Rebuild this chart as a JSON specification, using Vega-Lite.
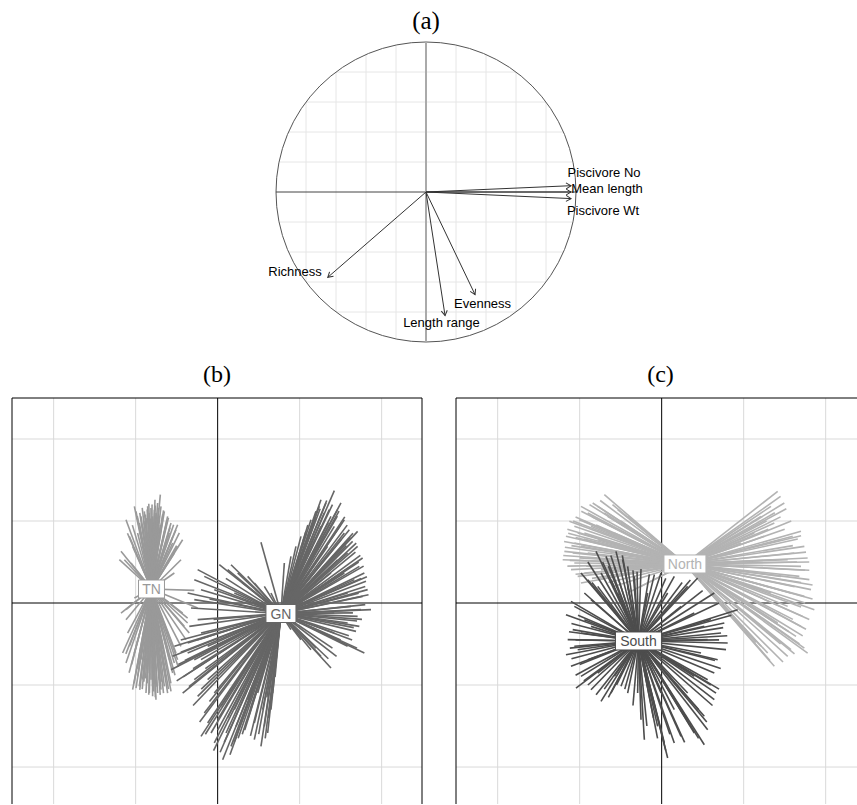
{
"$schema": "https://vega.github.io/schema/vega-lite/v6.json",
"padding": {"left": 11, "top": 0, "right": 0, "bottom": 0},
"autosize": {"type": "pad"},
"config": {
  "view": {"stroke": null},
  "axis": {"disable": true},
  "legend": {"disable": true},
  "font": "Liberation Sans",
  "title": {"font": "Liberation Serif", "fontSize": 24, "fontWeight": "normal", "color": "#000", "anchor": "middle"}
},
"bounds": "flush",
"spacing": 56,
"datasets": {
  "vgrid": [{"x":-0.8,"y":-0.6,"y2":0.6},{"x":-0.6,"y":-0.8,"y2":0.8},{"x":-0.4,"y":-0.917,"y2":0.917},{"x":-0.2,"y":-0.98,"y2":0.98},{"x":0.2,"y":-0.98,"y2":0.98},{"x":0.4,"y":-0.917,"y2":0.917},{"x":0.6,"y":-0.8,"y2":0.8},{"x":0.8,"y":-0.6,"y2":0.6}],
  "hgrid": [{"y":-0.8,"x":-0.6,"x2":0.6},{"y":-0.6,"x":-0.8,"x2":0.8},{"y":-0.4,"x":-0.917,"x2":0.917},{"y":-0.2,"x":-0.98,"x2":0.98},{"y":0.2,"x":-0.98,"x2":0.98},{"y":0.4,"x":-0.917,"x2":0.917},{"y":0.6,"x":-0.8,"x2":0.8},{"y":0.8,"x":-0.6,"x2":0.6}],
  "arrows": [{"n":"Piscivore No","x":0.967,"y":0.042},{"n":"Mean length","x":0.967,"y":0.0},{"n":"Piscivore Wt","x":0.967,"y":-0.044},{"n":"Richness","x":-0.655,"y":-0.569},{"n":"Length range","x":0.127,"y":-0.824},{"n":"Evenness","x":0.327,"y":-0.684}],
  "alabels": [{"t":"Piscivore No","x":1.187,"y":0.127},{"t":"Mean length","x":1.207,"y":0.02},{"t":"Piscivore Wt","x":1.18,"y":-0.128},{"t":"Richness","x":-0.873,"y":-0.536},{"t":"Length range","x":0.103,"y":-0.873},{"t":"Evenness","x":0.377,"y":-0.747}],
  "cent": [{"p":"b","g":"TN","x":-0.807,"y":0.171},{"p":"b","g":"GN","x":0.772,"y":-0.128},{"p":"c","g":"North","x":0.284,"y":0.476},{"p":"c","g":"South","x":-0.283,"y":-0.463}],
  "gridv": [{"v":-2},{"v":-1},{"v":1},{"v":2}],
  "sb": [
{"g":"TN","x":-1.199,"y":0.528},{"g":"TN","x":-1.179,"y":0.63},{"g":"TN","x":-1.118,"y":1.016},{"g":"TN","x":-1.077,"y":0.813},{"g":"TN","x":-1.016,"y":1.179},{"g":"TN","x":-0.996,"y":1.118},{"g":"TN","x":-0.935,"y":1.057},{"g":"TN","x":-0.894,"y":1.118},{"g":"TN","x":-0.854,"y":1.179},{"g":"TN","x":-0.813,"y":1.159},{"g":"TN","x":-0.772,"y":1.138},{"g":"TN","x":-0.732,"y":1.22},{"g":"TN","x":-0.699,"y":1.321},{"g":"TN","x":-0.65,"y":1.118},{"g":"TN","x":-0.61,"y":1.057},{"g":"TN","x":-0.569,"y":0.976},{"g":"TN","x":-0.537,"y":0.955},{"g":"TN","x":-0.508,"y":0.894},{"g":"TN","x":-0.488,"y":0.955},{"g":"TN","x":-0.467,"y":0.854},{"g":"TN","x":-0.427,"y":0.772},{"g":"TN","x":-0.488,"y":0.691},{"g":"TN","x":-0.528,"y":0.61},{"g":"TN","x":-0.447,"y":0.528},{"g":"TN","x":-0.528,"y":0.366},
{"g":"TN","x":-0.833,"y":1.098},{"g":"TN","x":-0.793,"y":1.057},{"g":"TN","x":-0.752,"y":1.098},{"g":"TN","x":-0.711,"y":1.057},{"g":"TN","x":-0.671,"y":1.016},{"g":"TN","x":-0.874,"y":1.037},{"g":"TN","x":-0.915,"y":0.935},{"g":"TN","x":-0.976,"y":0.854},{"g":"TN","x":-1.037,"y":0.691},{"g":"TN","x":-0.589,"y":0.854},{"g":"TN","x":-0.63,"y":0.935},{"g":"TN","x":-0.691,"y":1.179},{"g":"TN","x":-0.764,"y":1.26},{"g":"TN","x":-0.955,"y":0.976},{"g":"TN","x":-1.138,"y":0.528},{"g":"TN","x":-1.057,"y":0.488},{"g":"TN","x":-0.549,"y":0.732},
{"g":"TN","x":-0.72,"y":1.16},{"g":"TN","x":-0.8,"y":1.2},{"g":"TN","x":-0.86,"y":1.14},{"g":"TN","x":-0.67,"y":1.08},{"g":"TN","x":-0.74,"y":1.02},{"g":"TN","x":-0.9,"y":1.0},{"g":"TN","x":-0.62,"y":1.0},{"g":"TN","x":-0.95,"y":1.1},{"g":"TN","x":-0.78,"y":0.98},{"g":"TN","x":-0.7,"y":0.95},
{"g":"TN","x":-0.6,"y":1.04},{"g":"TN","x":-0.66,"y":1.13},{"g":"TN","x":-0.76,"y":1.19},{"g":"TN","x":-0.84,"y":1.21},{"g":"TN","x":-0.92,"y":1.16},{"g":"TN","x":-0.98,"y":1.06},{"g":"TN","x":-1.04,"y":0.95},{"g":"TN","x":-1.1,"y":0.85},{"g":"TN","x":-0.55,"y":0.8},{"g":"TN","x":-0.5,"y":0.7},{"g":"TN","x":-0.58,"y":0.92},{"g":"TN","x":-0.88,"y":1.08},{"g":"TN","x":-0.82,"y":1.03},{"g":"TN","x":-0.72,"y":0.9},
{"g":"TN","x":-1.179,"y":-0.122},{"g":"TN","x":-1.159,"y":-0.61},{"g":"TN","x":-1.118,"y":-0.732},{"g":"TN","x":-1.077,"y":-0.528},{"g":"TN","x":-1.037,"y":-1.057},{"g":"TN","x":-0.996,"y":-1.037},{"g":"TN","x":-0.955,"y":-1.016},{"g":"TN","x":-0.915,"y":-0.935},{"g":"TN","x":-0.874,"y":-1.098},{"g":"TN","x":-0.833,"y":-1.098},{"g":"TN","x":-0.793,"y":-1.138},{"g":"TN","x":-0.752,"y":-1.179},{"g":"TN","x":-0.732,"y":-1.098},{"g":"TN","x":-0.691,"y":-1.057},{"g":"TN","x":-0.65,"y":-1.016},{"g":"TN","x":-0.61,"y":-1.098},{"g":"TN","x":-0.569,"y":-1.077},{"g":"TN","x":-0.549,"y":-0.854},{"g":"TN","x":-0.528,"y":-0.732},{"g":"TN","x":-0.508,"y":-0.61},{"g":"TN","x":-0.488,"y":-0.691},{"g":"TN","x":-0.447,"y":-0.528},{"g":"TN","x":-0.386,"y":-0.447},{"g":"TN","x":-0.346,"y":-0.366},{"g":"TN","x":-0.366,"y":-0.244},{"g":"TN","x":-0.427,"y":-0.122},
{"g":"TN","x":-0.813,"y":-0.935},{"g":"TN","x":-0.772,"y":-0.894},{"g":"TN","x":-0.854,"y":-0.854},{"g":"TN","x":-0.894,"y":-0.813},{"g":"TN","x":-0.711,"y":-0.935},{"g":"TN","x":-0.65,"y":-0.813},{"g":"TN","x":-0.935,"y":-0.691},{"g":"TN","x":-1.016,"y":-0.61},{"g":"TN","x":-1.098,"y":-0.366},{"g":"TN","x":-0.589,"y":-0.691},{"g":"TN","x":-0.63,"y":-0.935},{"g":"TN","x":-0.793,"y":-1.016},{"g":"TN","x":-0.976,"y":-0.894},{"g":"TN","x":-1.118,"y":-0.203},{"g":"TN","x":-0.407,"y":-0.285},
{"g":"TN","x":-0.86,"y":-0.98},{"g":"TN","x":-0.74,"y":-1.02},{"g":"TN","x":-0.68,"y":-0.96},{"g":"TN","x":-0.92,"y":-1.05},{"g":"TN","x":-0.78,"y":-1.08},{"g":"TN","x":-0.57,"y":-0.98},{"g":"TN","x":-1.05,"y":-0.75},{"g":"TN","x":-0.98,"y":-0.8},{"g":"TN","x":-0.7,"y":-1.12},{"g":"TN","x":-0.88,"y":-0.92},
{"g":"TN","x":-0.6,"y":-1.05},{"g":"TN","x":-0.66,"y":-1.1},{"g":"TN","x":-0.76,"y":-1.15},{"g":"TN","x":-0.84,"y":-1.12},{"g":"TN","x":-0.95,"y":-1.06},{"g":"TN","x":-1.02,"y":-0.98},{"g":"TN","x":-1.08,"y":-0.85},{"g":"TN","x":-1.12,"y":-0.62},{"g":"TN","x":-0.52,"y":-0.88},{"g":"TN","x":-0.48,"y":-0.78},{"g":"TN","x":-0.7,"y":-0.98},{"g":"TN","x":-0.9,"y":-0.96},{"g":"TN","x":-0.64,"y":-0.88},
{"g":"TN","x":-0.285,"y":0.154},{"g":"TN","x":-1.118,"y":-0.081},{"g":"TN","x":-1.016,"y":0.061},{"g":"TN","x":-0.244,"y":-0.061},{"g":"TN","x":-0.366,"y":-0.183},
{"g":"GN","x":0.528,"y":0.74},{"g":"GN","x":0.813,"y":0.488},{"g":"GN","x":0.894,"y":0.569},{"g":"GN","x":0.955,"y":0.691},{"g":"GN","x":1.016,"y":0.813},{"g":"GN","x":1.077,"y":0.874},{"g":"GN","x":1.138,"y":1.016},{"g":"GN","x":1.199,"y":1.118},{"g":"GN","x":1.26,"y":1.26},{"g":"GN","x":1.321,"y":1.22},{"g":"GN","x":1.423,"y":1.37},{"g":"GN","x":1.463,"y":1.138},{"g":"GN","x":1.504,"y":1.22},{"g":"GN","x":1.545,"y":1.016},{"g":"GN","x":1.606,"y":0.894},{"g":"GN","x":1.707,"y":0.874},{"g":"GN","x":1.646,"y":0.752},{"g":"GN","x":1.768,"y":0.549},{"g":"GN","x":1.728,"y":0.447},{"g":"GN","x":1.789,"y":0.366},{"g":"GN","x":1.809,"y":0.264},{"g":"GN","x":1.829,"y":0.163},{"g":"GN","x":1.768,"y":0.081},{"g":"GN","x":1.87,"y":-0.081},{"g":"GN","x":1.707,"y":-0.163},{"g":"GN","x":1.728,"y":-0.285},{"g":"GN","x":1.687,"y":-0.346},{"g":"GN","x":1.789,"y":-0.61},{"g":"GN","x":1.585,"y":-0.528},{"g":"GN","x":1.382,"y":-0.793},{"g":"GN","x":1.26,"y":-0.65},{"g":"GN","x":1.138,"y":-0.569},{"g":"GN","x":1.016,"y":-0.447},{"g":"GN","x":0.894,"y":-0.325},
{"g":"GN","x":1.382,"y":1.057},{"g":"GN","x":1.423,"y":0.935},{"g":"GN","x":1.26,"y":0.935},{"g":"GN","x":1.504,"y":0.772},{"g":"GN","x":1.585,"y":0.61},{"g":"GN","x":1.626,"y":0.447},{"g":"GN","x":1.667,"y":0.285},{"g":"GN","x":1.585,"y":0.122},{"g":"GN","x":1.626,"y":-0.041},{"g":"GN","x":1.179,"y":0.813},{"g":"GN","x":1.341,"y":0.691},{"g":"GN","x":1.463,"y":0.528},{"g":"GN","x":1.545,"y":0.366},{"g":"GN","x":1.22,"y":0.528},{"g":"GN","x":1.382,"y":0.366},{"g":"GN","x":1.707,"y":0.691},{"g":"GN","x":1.748,"y":-0.081},{"g":"GN","x":1.423,"y":-0.122},{"g":"GN","x":1.585,"y":-0.244},{"g":"GN","x":1.423,"y":-0.366},{"g":"GN","x":1.24,"y":1.179},{"g":"GN","x":1.362,"y":1.138},{"g":"GN","x":1.545,"y":0.854},
{"g":"GN","x":1.3,"y":1.1},{"g":"GN","x":1.46,"y":1.06},{"g":"GN","x":1.35,"y":0.98},{"g":"GN","x":1.5,"y":0.95},{"g":"GN","x":1.62,"y":0.8},{"g":"GN","x":1.68,"y":0.62},{"g":"GN","x":1.72,"y":0.5},{"g":"GN","x":1.75,"y":0.3},{"g":"GN","x":1.8,"y":0.2},{"g":"GN","x":1.72,"y":0.12},{"g":"GN","x":1.65,"y":-0.12},{"g":"GN","x":1.7,"y":-0.22},{"g":"GN","x":1.5,"y":-0.45},{"g":"GN","x":1.6,"y":-0.4},{"g":"GN","x":1.4,"y":-0.55},{"g":"GN","x":1.1,"y":0.95},{"g":"GN","x":1.2,"y":1.05},{"g":"GN","x":1.57,"y":0.7},{"g":"GN","x":1.3,"y":0.8},{"g":"GN","x":1.12,"y":0.7},
{"g":"GN","x":1.33,"y":1.25},{"g":"GN","x":1.4,"y":1.2},{"g":"GN","x":1.48,"y":1.12},{"g":"GN","x":1.55,"y":1.05},{"g":"GN","x":1.58,"y":0.95},{"g":"GN","x":1.65,"y":0.85},{"g":"GN","x":1.69,"y":0.73},{"g":"GN","x":1.74,"y":0.58},{"g":"GN","x":1.78,"y":0.45},{"g":"GN","x":1.82,"y":0.32},{"g":"GN","x":1.84,"y":0.1},{"g":"GN","x":1.8,"y":-0.02},{"g":"GN","x":1.76,"y":-0.2},{"g":"GN","x":1.66,"y":-0.3},{"g":"GN","x":1.64,"y":-0.45},{"g":"GN","x":1.7,"y":-0.55},{"g":"GN","x":1.45,"y":-0.65},{"g":"GN","x":1.35,"y":-0.68},{"g":"GN","x":1.2,"y":-0.55},{"g":"GN","x":1.25,"y":1.15},{"g":"GN","x":1.18,"y":0.98},{"g":"GN","x":1.08,"y":0.85},
{"g":"GN","x":-0.244,"y":0.407},{"g":"GN","x":-0.163,"y":0.325},{"g":"GN","x":0.02,"y":0.467},{"g":"GN","x":0.122,"y":0.407},{"g":"GN","x":0.163,"y":0.467},{"g":"GN","x":0.244,"y":0.366},{"g":"GN","x":0.366,"y":0.325},{"g":"GN","x":0.447,"y":0.244},{"g":"GN","x":0.569,"y":0.203},{"g":"GN","x":0.65,"y":0.122},{"g":"GN","x":-0.285,"y":0.285},{"g":"GN","x":-0.366,"y":0.122},{"g":"GN","x":-0.203,"y":0.163},{"g":"GN","x":-0.285,"y":0.041},{"g":"GN","x":-0.325,"y":-0.061},{"g":"GN","x":-0.244,"y":-0.203},{"g":"GN","x":-0.346,"y":-0.285},{"g":"GN","x":-0.041,"y":0.163},{"g":"GN","x":0.203,"y":0.122},
{"g":"GN","x":-0.366,"y":-0.488},{"g":"GN","x":-0.528,"y":-0.528},{"g":"GN","x":-0.569,"y":-0.813},{"g":"GN","x":-0.366,"y":-0.61},{"g":"GN","x":-0.427,"y":-1.098},{"g":"GN","x":-0.285,"y":-0.935},{"g":"GN","x":-0.244,"y":-1.138},{"g":"GN","x":-0.203,"y":-1.626},{"g":"GN","x":-0.163,"y":-1.341},{"g":"GN","x":-0.122,"y":-1.463},{"g":"GN","x":-0.041,"y":-1.707},{"g":"GN","x":0.0,"y":-1.423},{"g":"GN","x":0.061,"y":-1.911},{"g":"GN","x":0.102,"y":-1.585},{"g":"GN","x":0.163,"y":-1.748},{"g":"GN","x":0.224,"y":-1.504},{"g":"GN","x":0.285,"y":-1.463},{"g":"GN","x":0.366,"y":-1.423},{"g":"GN","x":0.447,"y":-1.463},{"g":"GN","x":0.528,"y":-1.748},{"g":"GN","x":0.569,"y":-1.504},{"g":"GN","x":0.61,"y":-1.585},{"g":"GN","x":0.671,"y":-1.098},{"g":"GN","x":0.732,"y":-0.488},{"g":"GN","x":-0.203,"y":-0.691},{"g":"GN","x":-0.122,"y":-0.935},{"g":"GN","x":-0.041,"y":-1.098},{"g":"GN","x":0.041,"y":-1.26},{"g":"GN","x":0.203,"y":-1.301},{"g":"GN","x":0.366,"y":-1.179},{"g":"GN","x":0.488,"y":-1.098},{"g":"GN","x":-0.203,"y":-0.366},{"g":"GN","x":-0.122,"y":-0.528},{"g":"GN","x":-0.285,"y":-0.691},{"g":"GN","x":0.447,"y":-1.667},{"g":"GN","x":-0.081,"y":-1.585},
{"g":"GN","x":-0.1,"y":-1.2},{"g":"GN","x":0.0,"y":-1.55},{"g":"GN","x":0.12,"y":-1.4},{"g":"GN","x":0.3,"y":-1.6},{"g":"GN","x":0.4,"y":-1.3},{"g":"GN","x":0.55,"y":-1.3},{"g":"GN","x":-0.3,"y":-0.8},{"g":"GN","x":-0.4,"y":-0.7},{"g":"GN","x":-0.15,"y":-0.8},{"g":"GN","x":-0.2,"y":-1.05},{"g":"GN","x":0.08,"y":-1.7},{"g":"GN","x":0.25,"y":-1.65},{"g":"GN","x":-0.05,"y":-0.2},{"g":"GN","x":0.1,"y":0.3},{"g":"GN","x":0.3,"y":0.25},{"g":"GN","x":-0.1,"y":0.05},{"g":"GN","x":-0.25,"y":-0.45},{"g":"GN","x":-0.45,"y":-0.6},{"g":"GN","x":0.62,"y":-1.4},{"g":"GN","x":0.2,"y":-1.1},
{"g":"GN","x":-0.48,"y":-0.75},{"g":"GN","x":-0.5,"y":-0.95},{"g":"GN","x":-0.35,"y":-1.02},{"g":"GN","x":-0.3,"y":-1.25},{"g":"GN","x":-0.22,"y":-1.45},{"g":"GN","x":-0.15,"y":-1.6},{"g":"GN","x":-0.05,"y":-1.8},{"g":"GN","x":0.03,"y":-1.82},{"g":"GN","x":0.15,"y":-1.85},{"g":"GN","x":0.2,"y":-1.7},{"g":"GN","x":0.33,"y":-1.55},{"g":"GN","x":0.4,"y":-1.62},{"g":"GN","x":0.5,"y":-1.6},{"g":"GN","x":0.58,"y":-1.65},{"g":"GN","x":0.65,"y":-1.3},{"g":"GN","x":0.7,"y":-0.9},{"g":"GN","x":0.6,"y":-1.15},{"g":"GN","x":-0.42,"y":-0.9},{"g":"GN","x":-0.55,"y":-0.65},{"g":"GN","x":-0.45,"y":-0.45}
  ],
  "sc": [
{"g":"North","x":-0.699,"y":1.321},{"g":"North","x":-0.841,"y":1.22},{"g":"North","x":-0.984,"y":1.179},{"g":"North","x":-0.902,"y":1.098},{"g":"North","x":-1.004,"y":1.016},{"g":"North","x":-1.126,"y":0.996},{"g":"North","x":-1.065,"y":0.935},{"g":"North","x":-1.024,"y":0.854},{"g":"North","x":-1.167,"y":0.813},{"g":"North","x":-1.065,"y":0.732},{"g":"North","x":-1.187,"y":0.63},{"g":"North","x":-1.085,"y":0.61},{"g":"North","x":-1.207,"y":0.528},{"g":"North","x":-1.065,"y":0.488},{"g":"North","x":-1.106,"y":0.407},{"g":"North","x":-1.024,"y":0.325},{"g":"North","x":-0.943,"y":0.366},{"g":"North","x":-0.984,"y":0.244},{"g":"North","x":-0.78,"y":0.285},{"g":"North","x":-0.577,"y":0.203},{"g":"North","x":-0.415,"y":0.122},{"g":"North","x":-0.252,"y":0.203},{"g":"North","x":-0.659,"y":1.057},{"g":"North","x":-0.78,"y":1.179},{"g":"North","x":-0.537,"y":1.138},{"g":"North","x":-0.862,"y":0.935},{"g":"North","x":-0.78,"y":0.772},{"g":"North","x":-0.577,"y":0.854},{"g":"North","x":-0.415,"y":0.935},{"g":"North","x":-0.252,"y":0.813},{"g":"North","x":-0.902,"y":0.61},{"g":"North","x":-0.74,"y":0.528},{"g":"North","x":-0.537,"y":0.447},{"g":"North","x":-0.74,"y":0.407},{"g":"North","x":-0.415,"y":1.057},{"g":"North","x":-0.943,"y":0.854},{"g":"North","x":-0.984,"y":0.691},
{"g":"North","x":-1.1,"y":0.7},{"g":"North","x":-1.15,"y":0.9},{"g":"North","x":-1.05,"y":0.8},{"g":"North","x":-0.95,"y":1.0},{"g":"North","x":-1.0,"y":0.55},{"g":"North","x":-1.12,"y":0.52},{"g":"North","x":-0.88,"y":0.75},{"g":"North","x":-0.8,"y":0.95},{"g":"North","x":-0.7,"y":1.1},{"g":"North","x":-1.05,"y":1.05},{"g":"North","x":-0.92,"y":0.45},{"g":"North","x":-1.18,"y":0.68},
{"g":"North","x":-0.75,"y":1.25},{"g":"North","x":-0.88,"y":1.2},{"g":"North","x":-0.98,"y":1.12},{"g":"North","x":-1.08,"y":1.0},{"g":"North","x":-1.14,"y":0.85},{"g":"North","x":-1.19,"y":0.75},{"g":"North","x":-1.2,"y":0.58},{"g":"North","x":-1.15,"y":0.45},{"g":"North","x":-1.05,"y":0.35},{"g":"North","x":-0.85,"y":0.3},{"g":"North","x":-0.65,"y":0.25},{"g":"North","x":-0.6,"y":1.2},{"g":"North","x":-0.5,"y":1.0},{"g":"North","x":-0.85,"y":1.05},{"g":"North","x":-0.95,"y":0.78},
{"g":"North","x":1.415,"y":1.362},{"g":"North","x":1.496,"y":1.22},{"g":"North","x":1.333,"y":1.179},{"g":"North","x":1.211,"y":1.057},{"g":"North","x":1.374,"y":0.976},{"g":"North","x":1.699,"y":0.874},{"g":"North","x":1.598,"y":0.813},{"g":"North","x":1.74,"y":0.691},{"g":"North","x":1.618,"y":0.61},{"g":"North","x":1.78,"y":0.549},{"g":"North","x":1.699,"y":0.447},{"g":"North","x":1.801,"y":0.285},{"g":"North","x":1.679,"y":0.325},{"g":"North","x":1.821,"y":0.163},{"g":"North","x":1.74,"y":0.081},{"g":"North","x":1.862,"y":-0.081},{"g":"North","x":1.72,"y":-0.163},{"g":"North","x":1.699,"y":-0.285},{"g":"North","x":1.638,"y":-0.407},{"g":"North","x":1.78,"y":-0.61},{"g":"North","x":1.577,"y":-0.569},{"g":"North","x":1.537,"y":-0.65},{"g":"North","x":1.374,"y":-0.772},{"g":"North","x":1.293,"y":-0.61},{"g":"North","x":1.211,"y":-0.528},{"g":"North","x":1.089,"y":-0.407},{"g":"North","x":0.967,"y":-0.285},{"g":"North","x":0.846,"y":-0.122},{"g":"North","x":0.764,"y":-0.041},{"g":"North","x":0.967,"y":0.732},{"g":"North","x":1.13,"y":0.854},{"g":"North","x":0.886,"y":0.61},{"g":"North","x":1.455,"y":0.772},{"g":"North","x":1.537,"y":0.528},{"g":"North","x":1.455,"y":0.325},{"g":"North","x":1.577,"y":0.122},{"g":"North","x":1.537,"y":-0.041},{"g":"North","x":1.415,"y":-0.244},{"g":"North","x":1.333,"y":0.122},{"g":"North","x":1.374,"y":0.528},{"g":"North","x":1.252,"y":0.813},
{"g":"North","x":1.6,"y":0.7},{"g":"North","x":1.65,"y":0.5},{"g":"North","x":1.7,"y":0.25},{"g":"North","x":1.75,"y":0.0},{"g":"North","x":1.7,"y":-0.05},{"g":"North","x":1.6,"y":-0.2},{"g":"North","x":1.55,"y":-0.35},{"g":"North","x":1.45,"y":-0.5},{"g":"North","x":1.75,"y":0.4},{"g":"North","x":1.8,"y":0.4},{"g":"North","x":1.66,"y":0.78},{"g":"North","x":1.5,"y":0.9},{"g":"North","x":1.45,"y":1.05},{"g":"North","x":1.3,"y":0.9},{"g":"North","x":1.62,"y":0.2},{"g":"North","x":1.72,"y":-0.4},{"g":"North","x":1.68,"y":-0.5},
{"g":"North","x":1.45,"y":1.3},{"g":"North","x":1.52,"y":1.15},{"g":"North","x":1.58,"y":1.0},{"g":"North","x":1.7,"y":0.82},{"g":"North","x":1.76,"y":0.62},{"g":"North","x":1.8,"y":0.5},{"g":"North","x":1.84,"y":0.22},{"g":"North","x":1.84,"y":0.05},{"g":"North","x":1.8,"y":-0.2},{"g":"North","x":1.76,"y":-0.32},{"g":"North","x":1.74,"y":-0.55},{"g":"North","x":1.62,"y":-0.62},{"g":"North","x":1.48,"y":-0.72},{"g":"North","x":1.32,"y":-0.7},{"g":"North","x":1.15,"y":-0.48},{"g":"North","x":1.38,"y":1.1},{"g":"North","x":1.28,"y":1.0},
{"g":"South","x":-0.801,"y":0.63},{"g":"South","x":-0.679,"y":0.569},{"g":"South","x":-0.557,"y":0.63},{"g":"South","x":-0.476,"y":0.528},{"g":"South","x":-0.415,"y":0.447},{"g":"South","x":-0.252,"y":0.415},{"g":"South","x":-0.089,"y":0.346},{"g":"South","x":-0.008,"y":0.366},{"g":"South","x":0.154,"y":0.325},{"g":"South","x":0.317,"y":0.203},{"g":"South","x":0.439,"y":0.305},{"g":"South","x":0.642,"y":0.122},{"g":"South","x":0.927,"y":-0.081},{"g":"South","x":0.764,"y":-0.244},{"g":"South","x":0.724,"y":-0.366},{"g":"South","x":0.805,"y":-0.488},{"g":"South","x":0.785,"y":-0.569},{"g":"South","x":0.683,"y":-0.691},{"g":"South","x":0.642,"y":-0.854},{"g":"South","x":0.561,"y":-0.935},{"g":"South","x":0.663,"y":-1.098},{"g":"South","x":0.642,"y":-1.179},{"g":"South","x":0.52,"y":-1.382},{"g":"South","x":0.561,"y":-1.545},{"g":"South","x":0.52,"y":-1.728},{"g":"South","x":0.398,"y":-1.585},{"g":"South","x":0.236,"y":-1.626},{"g":"South","x":0.073,"y":-1.89},{"g":"South","x":0.033,"y":-1.707},{"g":"South","x":-0.049,"y":-1.504},{"g":"South","x":-0.211,"y":-1.667},{"g":"South","x":-0.252,"y":-1.423},{"g":"South","x":-0.293,"y":-1.098},{"g":"South","x":-0.415,"y":-1.098},{"g":"South","x":-0.496,"y":-1.016},{"g":"South","x":-0.618,"y":-1.098},{"g":"South","x":-0.74,"y":-1.199},{"g":"South","x":-0.862,"y":-1.057},{"g":"South","x":-1.045,"y":-1.037},{"g":"South","x":-0.984,"y":-0.894},{"g":"South","x":-1.106,"y":-0.772},{"g":"South","x":-1.167,"y":-0.63},{"g":"South","x":-1.065,"y":-0.528},{"g":"South","x":-1.146,"y":-0.447},{"g":"South","x":-1.085,"y":-0.325},{"g":"South","x":-1.167,"y":-0.142},{"g":"South","x":-1.065,"y":-0.041},{"g":"South","x":-1.106,"y":0.02},{"g":"South","x":-0.943,"y":0.122},{"g":"South","x":-0.984,"y":0.366},{"g":"South","x":-0.902,"y":0.285},{"g":"South","x":-0.74,"y":0.366},{"g":"South","x":-0.618,"y":0.285},
{"g":"South","x":-0.862,"y":0.041},{"g":"South","x":-0.78,"y":0.203},{"g":"South","x":-0.577,"y":0.447},{"g":"South","x":-0.333,"y":0.325},{"g":"South","x":-0.171,"y":0.122},{"g":"South","x":0.073,"y":0.122},{"g":"South","x":0.236,"y":-0.041},{"g":"South","x":0.398,"y":-0.122},{"g":"South","x":0.52,"y":-0.285},{"g":"South","x":0.561,"y":-0.447},{"g":"South","x":0.48,"y":-0.61},{"g":"South","x":0.398,"y":-0.894},{"g":"South","x":0.317,"y":-1.098},{"g":"South","x":0.154,"y":-1.301},{"g":"South","x":-0.008,"y":-1.098},{"g":"South","x":-0.171,"y":-1.016},{"g":"South","x":-0.577,"y":-0.894},{"g":"South","x":-0.78,"y":-0.854},{"g":"South","x":-0.902,"y":-0.691},{"g":"South","x":-0.984,"y":-0.366},{"g":"South","x":-0.943,"y":-0.203},{"g":"South","x":-1.024,"y":-0.569},{"g":"South","x":-0.862,"y":-0.285},{"g":"South","x":0.154,"y":-1.707},{"g":"South","x":0.317,"y":-1.423},{"g":"South","x":-0.415,"y":0.203},{"g":"South","x":-0.537,"y":0.122},
{"g":"South","x":-1.0,"y":-0.75},{"g":"South","x":-0.95,"y":-0.95},{"g":"South","x":-0.7,"y":-1.05},{"g":"South","x":-0.55,"y":-1.0},{"g":"South","x":-1.1,"y":-0.25},{"g":"South","x":-1.05,"y":-0.45},{"g":"South","x":-1.12,"y":-0.55},{"g":"South","x":0.7,"y":-0.45},{"g":"South","x":0.65,"y":-0.7},{"g":"South","x":0.6,"y":-1.0},{"g":"South","x":0.45,"y":-1.3},{"g":"South","x":0.35,"y":-1.5},{"g":"South","x":-0.1,"y":-1.4},{"g":"South","x":0.1,"y":-1.6},{"g":"South","x":0.75,"y":-0.3},{"g":"South","x":0.6,"y":-0.2},{"g":"South","x":-0.65,"y":0.45},{"g":"South","x":-0.35,"y":0.4},{"g":"South","x":0.25,"y":0.25},{"g":"South","x":-0.85,"y":0.25},
{"g":"South","x":-0.9,"y":0.5},{"g":"South","x":-0.72,"y":0.5},{"g":"South","x":-0.62,"y":0.58},{"g":"South","x":-0.48,"y":0.58},{"g":"South","x":-0.3,"y":0.38},{"g":"South","x":-1.02,"y":-0.15},{"g":"South","x":-1.13,"y":-0.35},{"g":"South","x":-1.1,"y":-0.68},{"g":"South","x":-1.05,"y":-0.88},{"g":"South","x":-0.9,"y":-1.0},{"g":"South","x":-0.8,"y":-1.12},{"g":"South","x":-0.65,"y":-1.15},{"g":"South","x":-0.45,"y":-1.05},{"g":"South","x":-0.35,"y":-1.25},{"g":"South","x":-0.18,"y":-1.5},{"g":"South","x":-0.05,"y":-1.65},{"g":"South","x":0.05,"y":-1.8},{"g":"South","x":0.28,"y":-1.7},{"g":"South","x":0.45,"y":-1.65},{"g":"South","x":0.55,"y":-1.45},{"g":"South","x":0.62,"y":-1.25},{"g":"South","x":0.7,"y":-1.05},{"g":"South","x":0.72,"y":-0.8},{"g":"South","x":0.8,"y":-0.4},{"g":"South","x":0.85,"y":-0.15},{"g":"South","x":0.7,"y":0.0},{"g":"South","x":0.5,"y":0.15},{"g":"South","x":0.35,"y":0.28},{"g":"South","x":0.05,"y":0.3},{"g":"South","x":-0.15,"y":0.35}
  ]
},
"vconcat": [
  {
    "width": 846, "height": 342,
    "layer": [
      {"data": {"name": "vgrid"}, "mark": {"type": "rule", "color": "#e6e6e6", "strokeWidth": 1},
       "encoding": {"x": {"field": "x", "type": "quantitative", "scale": {"domain": [-2.76, 2.88], "nice": false, "zero": false}}, "y": {"field": "y", "type": "quantitative", "scale": {"domain": [-1, 1.28], "nice": false, "zero": false}}, "y2": {"field": "y2"}}},
      {"data": {"name": "hgrid"}, "mark": {"type": "rule", "color": "#e6e6e6", "strokeWidth": 1},
       "encoding": {"x": {"field": "x", "type": "quantitative"}, "x2": {"field": "x2"}, "y": {"field": "y", "type": "quantitative"}}},
      {"data": {"values": [{"x": 0, "y": 0}]}, "mark": {"type": "point", "shape": "circle", "size": 90000, "filled": false, "stroke": "#555555", "strokeWidth": 1, "opacity": 1},
       "encoding": {"x": {"field": "x", "type": "quantitative"}, "y": {"field": "y", "type": "quantitative"}}},
      {"data": {"values": [{"x": -1, "x2": 1, "y": 0}]}, "mark": {"type": "rule", "color": "#444444", "strokeWidth": 1},
       "encoding": {"x": {"field": "x", "type": "quantitative"}, "x2": {"field": "x2"}, "y": {"field": "y", "type": "quantitative"}}},
      {"data": {"values": [{"x": 0, "y": -1, "y2": 1}]}, "mark": {"type": "rule", "color": "#aaaaaa", "strokeWidth": 2},
       "encoding": {"x": {"field": "x", "type": "quantitative"}, "y": {"field": "y", "type": "quantitative"}, "y2": {"field": "y2"}}},
      {"data": {"name": "arrows"}, "mark": {"type": "rule", "color": "#333333", "strokeWidth": 1},
       "encoding": {"x": {"field": "x", "type": "quantitative"}, "y": {"field": "y", "type": "quantitative"}, "x2": {"datum": 0}, "y2": {"datum": 0}}},
      {"data": {"name": "arrows"}, "mark": {"type": "point", "shape": "M-1,-0.6L0,0L-1,0.6", "size": 100, "filled": false, "stroke": "#333333", "strokeWidth": 1, "opacity": 1, "angle": {"expr": "-atan2(datum.y, datum.x) * 180 / PI"}},
       "encoding": {"x": {"field": "x", "type": "quantitative"}, "y": {"field": "y", "type": "quantitative"}}},
      {"data": {"name": "alabels"}, "mark": {"type": "text", "font": "Liberation Sans", "fontSize": 13, "color": "#000000", "align": "center", "baseline": "middle"},
       "encoding": {"x": {"field": "x", "type": "quantitative"}, "y": {"field": "y", "type": "quantitative"}, "text": {"field": "t"}}},
      {"data": {"values": [{"t": "(a)", "x": 0, "y": 1.089}]}, "mark": {"type": "text", "font": "Liberation Serif", "fontSize": 25, "color": "#000000", "align": "center", "baseline": "alphabetic"},
       "encoding": {"x": {"field": "x", "type": "quantitative"}, "y": {"field": "y", "type": "quantitative"}, "text": {"field": "t"}}}
    ]
  },
  {
    "hconcat": [
      {
        "width": 410, "height": 406,
        "title": {"text": "(b)", "offset": 11},
        "layer": [
          {"data": {"name": "gridv"}, "mark": {"type": "rule", "color": "#d9d9d9", "strokeWidth": 1},
           "encoding": {"x": {"field": "v", "type": "quantitative", "scale": {"domain": [-2.508, 2.492], "nice": false, "zero": false}}}},
          {"data": {"name": "gridv"}, "mark": {"type": "rule", "color": "#d9d9d9", "strokeWidth": 1},
           "encoding": {"y": {"field": "v", "type": "quantitative", "scale": {"domain": [-2.451, 2.5], "nice": false, "zero": false}}}},
          {"data": {"values": [{"v": 0}]}, "mark": {"type": "rule", "color": "#000000", "strokeWidth": 1},
           "encoding": {"x": {"field": "v", "type": "quantitative"}}},
          {"data": {"values": [{"v": 0}]}, "mark": {"type": "rule", "color": "#000000", "strokeWidth": 1},
           "encoding": {"y": {"field": "v", "type": "quantitative"}}},
          {"data": {"values": [{"v": -2.508}, {"v": 2.492}]}, "mark": {"type": "rule", "color": "#000000", "strokeWidth": 1},
           "encoding": {"x": {"field": "v", "type": "quantitative"}}},
          {"data": {"values": [{"v": 2.5}]}, "mark": {"type": "rule", "color": "#000000", "strokeWidth": 1},
           "encoding": {"y": {"field": "v", "type": "quantitative"}}},
          {"data": {"name": "sb"},
           "transform": [{"lookup": "g", "from": {"data": {"name": "cent"}, "key": "g", "fields": ["x", "y"]}, "as": ["cx", "cy"]}],
           "mark": {"type": "rule", "strokeWidth": 1.6},
           "encoding": {"x": {"field": "x", "type": "quantitative"}, "y": {"field": "y", "type": "quantitative"}, "x2": {"field": "cx"}, "y2": {"field": "cy"},
             "stroke": {"field": "g", "type": "nominal", "scale": {"domain": ["TN", "GN", "North", "South"], "range": ["#999999", "#666666", "#b3b3b3", "#4d4d4d"]}}}},
          {"data": {"name": "cent"}, "transform": [{"filter": "datum.p === 'b'"}],
           "mark": {"type": "point", "size": 324, "filled": true, "fill": "#ffffff", "strokeWidth": 1, "opacity": 1},
           "encoding": {"x": {"field": "x", "type": "quantitative"}, "y": {"field": "y", "type": "quantitative"},
             "stroke": {"field": "g", "type": "nominal", "scale": {"domain": ["TN", "GN", "North", "South"], "range": ["#999999", "#666666", "#b3b3b3", "#4d4d4d"]}},
             "shape": {"field": "g", "type": "nominal", "scale": {"domain": ["TN", "GN", "North", "South"], "range": ["M-1.444,-1H1.444V1H-1.444Z", "M-1.667,-1H1.667V1H-1.667Z", "M-2.333,-1H2.333V1H-2.333Z", "M-2.556,-1H2.556V1H-2.556Z"]}}}},
          {"data": {"name": "cent"}, "transform": [{"filter": "datum.p === 'b'"}],
           "mark": {"type": "text", "font": "Liberation Sans", "fontSize": 14, "align": "center", "baseline": "middle", "dy": 1},
           "encoding": {"x": {"field": "x", "type": "quantitative"}, "y": {"field": "y", "type": "quantitative"}, "text": {"field": "g"},
             "color": {"field": "g", "type": "nominal", "scale": {"domain": ["TN", "GN", "North", "South"], "range": ["#999999", "#666666", "#b3b3b3", "#4d4d4d"]}}}}
        ]
      },
      {
        "width": 401, "height": 406,
        "title": {"text": "(c)", "offset": 11, "dx": 4},
        "layer": [
          {"data": {"name": "gridv"}, "mark": {"type": "rule", "color": "#d9d9d9", "strokeWidth": 1},
           "encoding": {"x": {"field": "v", "type": "quantitative", "scale": {"domain": [-2.508, 2.382], "nice": false, "zero": false}}}},
          {"data": {"name": "gridv"}, "mark": {"type": "rule", "color": "#d9d9d9", "strokeWidth": 1},
           "encoding": {"y": {"field": "v", "type": "quantitative", "scale": {"domain": [-2.451, 2.5], "nice": false, "zero": false}}}},
          {"data": {"values": [{"v": 0}]}, "mark": {"type": "rule", "color": "#000000", "strokeWidth": 1},
           "encoding": {"x": {"field": "v", "type": "quantitative"}}},
          {"data": {"values": [{"v": 0}]}, "mark": {"type": "rule", "color": "#000000", "strokeWidth": 1},
           "encoding": {"y": {"field": "v", "type": "quantitative"}}},
          {"data": {"values": [{"v": -2.508}]}, "mark": {"type": "rule", "color": "#000000", "strokeWidth": 1},
           "encoding": {"x": {"field": "v", "type": "quantitative"}}},
          {"data": {"values": [{"v": 2.5}]}, "mark": {"type": "rule", "color": "#000000", "strokeWidth": 1},
           "encoding": {"y": {"field": "v", "type": "quantitative"}}},
          {"data": {"name": "sc"},
           "transform": [{"lookup": "g", "from": {"data": {"name": "cent"}, "key": "g", "fields": ["x", "y"]}, "as": ["cx", "cy"]}],
           "mark": {"type": "rule", "strokeWidth": 1.6},
           "encoding": {"x": {"field": "x", "type": "quantitative"}, "y": {"field": "y", "type": "quantitative"}, "x2": {"field": "cx"}, "y2": {"field": "cy"},
             "stroke": {"field": "g", "type": "nominal", "scale": {"domain": ["TN", "GN", "North", "South"], "range": ["#999999", "#666666", "#b3b3b3", "#4d4d4d"]}}}},
          {"data": {"name": "cent"}, "transform": [{"filter": "datum.p === 'c'"}],
           "mark": {"type": "point", "size": 324, "filled": true, "fill": "#ffffff", "strokeWidth": 1, "opacity": 1},
           "encoding": {"x": {"field": "x", "type": "quantitative"}, "y": {"field": "y", "type": "quantitative"},
             "stroke": {"field": "g", "type": "nominal", "scale": {"domain": ["TN", "GN", "North", "South"], "range": ["#999999", "#666666", "#b3b3b3", "#4d4d4d"]}},
             "shape": {"field": "g", "type": "nominal", "scale": {"domain": ["TN", "GN", "North", "South"], "range": ["M-1.444,-1H1.444V1H-1.444Z", "M-1.667,-1H1.667V1H-1.667Z", "M-2.333,-1H2.333V1H-2.333Z", "M-2.556,-1H2.556V1H-2.556Z"]}}}},
          {"data": {"name": "cent"}, "transform": [{"filter": "datum.p === 'c'"}],
           "mark": {"type": "text", "font": "Liberation Sans", "fontSize": 14, "align": "center", "baseline": "middle", "dy": 1},
           "encoding": {"x": {"field": "x", "type": "quantitative"}, "y": {"field": "y", "type": "quantitative"}, "text": {"field": "g"},
             "color": {"field": "g", "type": "nominal", "scale": {"domain": ["TN", "GN", "North", "South"], "range": ["#999999", "#666666", "#b3b3b3", "#4d4d4d"]}}}}
        ]
      }
    ],
    "spacing": 34,
    "bounds": "flush"
  }
]
}
